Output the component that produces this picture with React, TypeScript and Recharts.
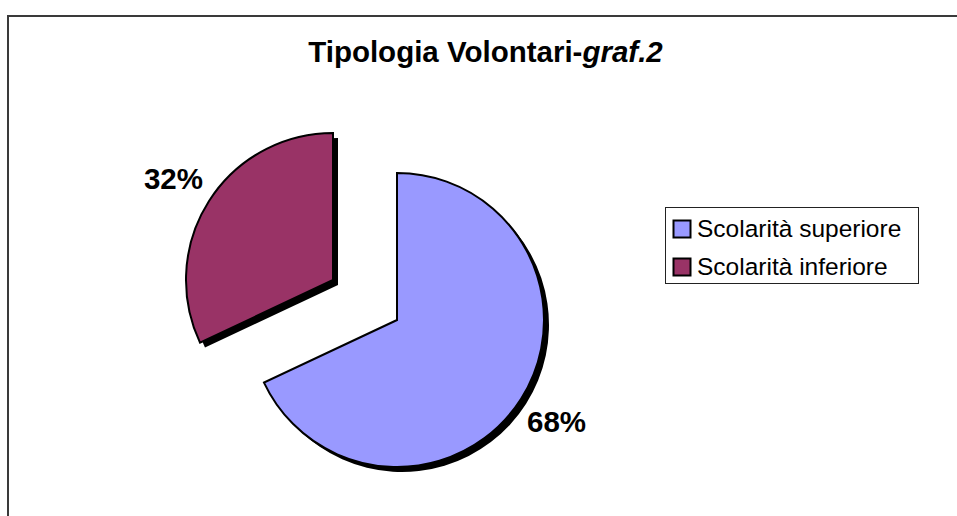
import { PieChart, Pie, Cell, Legend } from 'recharts'

/* ---------- data ---------- */

const CATEGORIES = ['Scolarità superiore', 'Scolarità inferiore']
const VALUES = [68, 32]
const COLORS = ['#9999FF', '#993366']

const data = CATEGORIES.map((name, i) => ({ name, value: VALUES[i] }))

/* ---------- layout ---------- */

const W = 957
const H = 516
const R = 147
const MAIN = { cx: 397, cy: 320 }
// second slice is pulled out along its bisector
const OUT = { cx: 333, cy: 280 }
const SHADOW = 5
const FONT = 'Arial, "Liberation Sans", sans-serif'

const pctLabel = (idx: number) => (p: any) => {
  if (p.index !== idx) return null
  const rad = (Math.PI / 180) * p.midAngle
  const d = p.outerRadius + 42
  const x = p.cx + d * Math.cos(rad)
  const y = p.cy - d * Math.sin(rad)
  return (
    <text x={x} y={y} textAnchor="middle" dominantBaseline="central"
      fontFamily={FONT} fontSize={29.5} fontWeight="bold" fill="#000">
      {`${Math.round(p.percent * 100)}%`}
    </text>
  )
}

function LegendBox() {
  return (
    <svg width={255} height={78} style={{ display: 'block' }}>
      <rect x={0.5} y={0.5} width={253} height={76} fill="#fff" stroke="#222" strokeWidth={1} />
      {CATEGORIES.map((c, i) => (
        <g key={c}>
          <rect x={8.5} y={13.5 + i * 38} width={17} height={17} fill={COLORS[i]} stroke="#000" strokeWidth={2} />
          <text x={32} y={30 + i * 37.5} fontFamily={FONT} fontSize={24.5} fill="#000">{c}</text>
        </g>
      ))}
    </svg>
  )
}

export default function App() {
  return (
    <div style={{ position: 'fixed', left: 0, top: 0, width: W, height: H, background: '#fff' }}>
      <PieChart width={W} height={H} margin={{ top: 0, right: 0, bottom: 0, left: 0 }}>
        {/* chart-area frame: only its top and left edges fall inside the picture */}
        <path d={`M8 ${H + 10} V16 H${W + 10}`} fill="none" stroke="#3a3a3a" strokeWidth={2} />

        <text x={485.5} y={62} textAnchor="middle" fontFamily={FONT} fontSize={29.5} fontWeight="bold" fill="#000">
          Tipologia Volontari-<tspan fontStyle="italic">graf.2</tspan>
        </text>

        {/* shadows */}
        <Pie data={data} dataKey="value" nameKey="name" cx={MAIN.cx + SHADOW} cy={MAIN.cy + SHADOW}
          outerRadius={R} startAngle={90} endAngle={-270} stroke="none" legendType="none"
          isAnimationActive={false}>
          <Cell fill="#000" />
          <Cell fill="none" />
        </Pie>
        <Pie data={data} dataKey="value" nameKey="name" cx={OUT.cx + SHADOW} cy={OUT.cy + SHADOW}
          outerRadius={R} startAngle={90} endAngle={-270} stroke="none" legendType="none"
          isAnimationActive={false}>
          <Cell fill="none" />
          <Cell fill="#000" />
        </Pie>

        {/* slices */}
        <Pie data={data} dataKey="value" nameKey="name" cx={MAIN.cx} cy={MAIN.cy}
          outerRadius={R} startAngle={90} endAngle={-270} legendType="none"
          label={pctLabel(0)} labelLine={false} isAnimationActive={false}>
          <Cell fill={COLORS[0]} stroke="#000" strokeWidth={2} />
          <Cell fill="none" stroke="none" />
        </Pie>
        <Pie data={data} dataKey="value" nameKey="name" cx={OUT.cx} cy={OUT.cy}
          outerRadius={R} startAngle={90} endAngle={-270} legendType="none"
          label={pctLabel(1)} labelLine={false} isAnimationActive={false}>
          <Cell fill="none" stroke="none" />
          <Cell fill={COLORS[1]} stroke="#000" strokeWidth={2} />
        </Pie>

        <Legend content={LegendBox} wrapperStyle={{ position: 'absolute', left: 665, top: 207, width: 255, height: 78 }} />
      </PieChart>
    </div>
  )
}
